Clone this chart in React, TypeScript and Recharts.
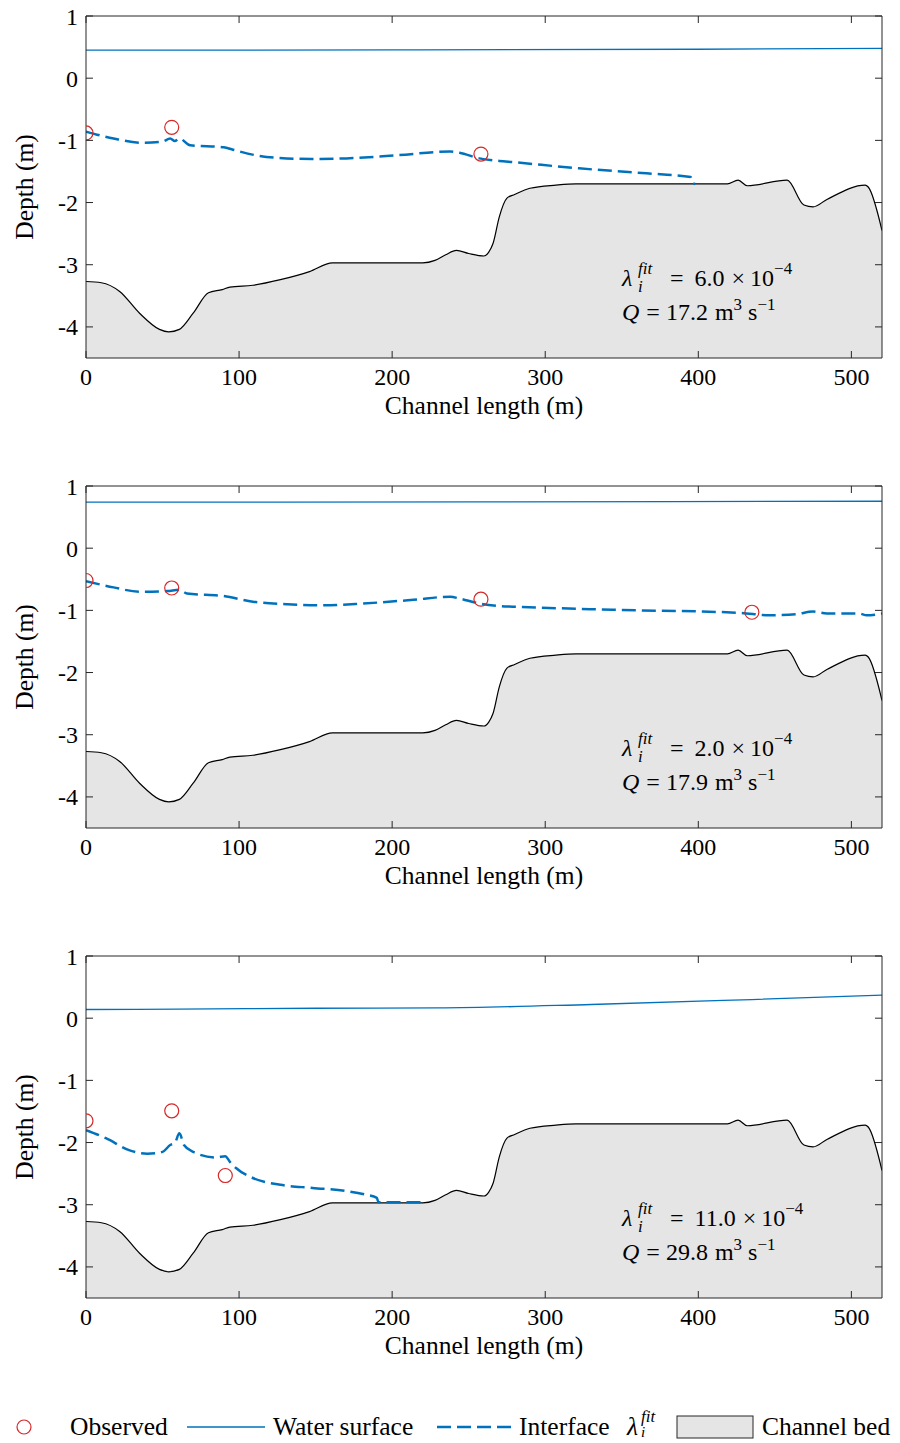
import React from 'react';
import { ComposedChart, Area, Line, Scatter, XAxis, YAxis } from 'recharts';

const BLUE = '#0072bd';
const RED = '#d62728';
const AXIS = '#262626';
const BED_FILL = '#e5e5e5';
const SERIF = '"Liberation Serif", "Times New Roman", serif';

const X_TICKS = [0, 100, 200, 300, 400, 500];
const Y_TICKS = [-4, -3, -2, -1, 0, 1];

// channel bed, identical in all three panels
const bedX = [0, 10, 22, 35, 48, 54, 61, 70, 80, 89, 94, 109, 127, 146, 161, 220, 228, 235, 242, 250, 260, 263, 266, 270, 275, 280, 290, 307, 320, 419, 426, 432, 458, 469, 475, 484, 509, 511, 520];
const bedDepth = [-3.27, -3.29, -3.43, -3.78, -4.04, -4.08, -4.04, -3.78, -3.45, -3.4, -3.36, -3.33, -3.24, -3.11, -2.97, -2.97, -2.93, -2.84, -2.77, -2.82, -2.86, -2.8, -2.65, -2.23, -1.93, -1.87, -1.77, -1.72, -1.7, -1.7, -1.64, -1.73, -1.64, -2.04, -2.07, -1.95, -1.72, -1.75, -2.45];

// panel 1
const water1X = [0, 200, 400, 520];
const water1Depth = [0.45, 0.455, 0.465, 0.48];
const iface1X = [0, 18, 37, 50, 55, 58, 61, 68, 90, 96, 111, 131, 148, 170, 203, 238, 244, 257, 270, 279, 322, 366, 395, 396.5, 398];
const iface1Depth = [-0.86, -0.97, -1.04, -1.02, -0.97, -1.01, -0.97, -1.08, -1.11, -1.15, -1.24, -1.29, -1.3, -1.29, -1.24, -1.18, -1.2, -1.29, -1.33, -1.35, -1.45, -1.53, -1.59, -1.69, -1.7];
const obs1X = [0, 56, 258];
const obs1Depth = [-0.88, -0.79, -1.22];

// panel 2
const water2X = [0, 260, 520];
const water2Depth = [0.74, 0.745, 0.755];
const iface2X = [0, 18, 35, 53, 61, 66, 90, 109, 131, 153, 181, 214, 238, 244, 257, 270, 279, 344, 427, 447, 464, 475, 484, 505, 510, 520];
const iface2Depth = [-0.53, -0.63, -0.7, -0.69, -0.67, -0.73, -0.77, -0.86, -0.9, -0.92, -0.89, -0.83, -0.78, -0.81, -0.89, -0.93, -0.94, -0.99, -1.04, -1.08, -1.06, -1.02, -1.05, -1.05, -1.08, -1.05];
const obs2X = [0, 56, 258, 435];
const obs2Depth = [-0.52, -0.64, -0.82, -1.03];

// panel 3
const water3X = [0, 60, 150, 230, 330, 435, 520];
const water3Depth = [0.14, 0.145, 0.16, 0.165, 0.22, 0.3, 0.37];
const iface3X = [0, 13, 29, 40, 50, 55, 58, 61, 64, 70, 85, 91, 94, 98, 109, 127, 148, 170, 183, 190, 191, 220];
const iface3Depth = [-1.8, -1.93, -2.13, -2.18, -2.15, -2.04, -2.01, -1.85, -2.04, -2.15, -2.24, -2.22, -2.31, -2.41, -2.57, -2.68, -2.73, -2.78, -2.84, -2.89, -2.96, -2.96];
const obs3X = [0, 56, 91];
const obs3Depth = [-1.65, -1.49, -2.53];

const lambdaLabels = ['6.0', '2.0', '11.0'];
const qLabels = ['17.2', '17.9', '29.8'];

const pts = (xs: number[], ys: number[]) => xs.map((x, i) => ({ x, d: ys[i] }));
const bed = pts(bedX, bedDepth);

const panels = [
  { water: pts(water1X, water1Depth), iface: pts(iface1X, iface1Depth), obs: pts(obs1X, obs1Depth) },
  { water: pts(water2X, water2Depth), iface: pts(iface2X, iface2Depth), obs: pts(obs2X, obs2Depth) },
  { water: pts(water3X, water3Depth), iface: pts(iface3X, iface3Depth), obs: pts(obs3X, obs3Depth) },
];

const TICK_LEN = 7;
const txt = { fontFamily: SERIF, fontSize: 24, fill: '#000' };
const big = { ...txt, fontSize: 25.5 };

// MATLAB-style ticks pointing into the plot box
const BottomTick = (p: any) => {
  const ay = p.y - 10;
  return (
    <g>
      <line x1={p.x} x2={p.x} y1={ay} y2={ay - TICK_LEN} stroke={AXIS} />
      <text x={p.x} y={p.y} dy="0.71em" textAnchor="middle" {...txt}>{p.payload.value}</text>
    </g>
  );
};
const TopTick = (p: any) => <line x1={p.x} x2={p.x} y1={p.y} y2={p.y + TICK_LEN} stroke={AXIS} />;
const LeftTick = (p: any) => {
  const ax = p.x + 8;
  return (
    <g>
      <line x1={ax} x2={ax + TICK_LEN} y1={p.y} y2={p.y} stroke={AXIS} />
      <text x={p.x} y={p.y} dy="0.355em" textAnchor="end" {...txt}>{p.payload.value}</text>
    </g>
  );
};
const RightTick = (p: any) => <line x1={p.x - TICK_LEN} x2={p.x} y1={p.y} y2={p.y} stroke={AXIS} />;

const ObsShape = (p: any) => <circle cx={p.cx} cy={p.cy} r={7} fill="none" stroke={RED} strokeWidth={1.2} />;

const Panel = ({ idx }: { idx: number }) => {
  const { water, iface, obs } = panels[idx];
  return (
    <div style={{ position: 'absolute', left: 0, top: idx * 470, width: 900, height: 440 }}>
      <ComposedChart width={900} height={440} margin={{ top: 15, right: 17, bottom: 22, left: 26 }}>
        <XAxis dataKey="x" type="number" domain={[0, 520]} ticks={X_TICKS} interval={0} allowDataOverflow
          height={60} tickSize={0} tickMargin={10} tickLine={false} stroke={AXIS} tick={BottomTick} />
        <XAxis xAxisId="top" orientation="top" dataKey="x" type="number" domain={[0, 520]} ticks={X_TICKS}
          interval={0} allowDataOverflow height={1} tickSize={0} tickMargin={0} tickLine={false} stroke={AXIS} tick={TopTick} />
        <YAxis type="number" domain={[-4.5, 1]} ticks={Y_TICKS} interval={0} allowDataOverflow width={60}
          tickSize={0} tickMargin={8} tickLine={false} stroke={AXIS} tick={LeftTick} />
        <YAxis yAxisId="right" orientation="right" type="number" domain={[-4.5, 1]} ticks={Y_TICKS} interval={0}
          allowDataOverflow width={1} tickSize={0} tickMargin={0} tickLine={false} stroke={AXIS} tick={RightTick} />
        <Area data={bed} dataKey="d" type="monotone" baseValue="dataMin" fill={BED_FILL} fillOpacity={1}
          stroke="#000" strokeWidth={1.2} isAnimationActive={false} activeDot={false} />
        <Line data={water} dataKey="d" type="monotone" stroke={BLUE} strokeWidth={1.3} dot={false}
          activeDot={false} isAnimationActive={false} />
        <Line data={iface} dataKey="d" type="monotone" stroke={BLUE} strokeWidth={2.5} strokeDasharray="14 6"
          dot={false} activeDot={false} isAnimationActive={false} />
        <Scatter data={obs} dataKey="d" shape={ObsShape} isAnimationActive={false} />
      </ComposedChart>
      <svg width={900} height={440} style={{ position: 'absolute', left: 0, top: 0, pointerEvents: 'none' }}>
        <text x={484} y={414} textAnchor="middle" {...big}>Channel length (m)</text>
        <text x={33} y={187} textAnchor="middle" transform="rotate(-90 33 187)" {...big}>Depth (m)</text>
        <text x={622} y={286} {...txt} fontStyle="italic">λ</text>
        <text x={638} y={274} {...txt} fontSize={17} fontStyle="italic">fit</text>
        <text x={638} y={292} {...txt} fontSize={17} fontStyle="italic">i</text>
        <text x={670} y={286} {...txt}>
          <tspan>=</tspan>
          <tspan dx={11}>{lambdaLabels[idx]}</tspan>
          <tspan dx={7}>×</tspan>
          <tspan dx={5}>10</tspan>
          <tspan dy={-12} fontSize={17}>−4</tspan>
        </text>
        <text x={622} y={320} {...txt}>
          <tspan fontStyle="italic">Q</tspan>
          <tspan dx={7}>=</tspan>
          <tspan dx={6}>{qLabels[idx]}</tspan>
          <tspan dx={7}>m</tspan>
          <tspan dy={-10} fontSize={17}>3</tspan>
          <tspan dx={6} dy={10}>s</tspan>
          <tspan dy={-10} fontSize={17}>−1</tspan>
        </text>
      </svg>
    </div>
  );
};

const Legend = () => (
  <svg width={900} height={43} style={{ position: 'absolute', left: 0, top: 1400 }}>
    <circle cx={24} cy={27} r={7} fill="none" stroke={RED} strokeWidth={1.2} />
    <text x={70} y={35} {...big}>Observed</text>
    <line x1={187} x2={265} y1={27} y2={27} stroke={BLUE} strokeWidth={1.3} />
    <text x={273} y={35} {...big}>Water surface</text>
    <line x1={437} x2={513} y1={27} y2={27} stroke={BLUE} strokeWidth={2.5} strokeDasharray="14 6" />
    <text x={519} y={35} {...big}>Interface</text>
    <text x={627} y={35} {...big} fontStyle="italic">λ</text>
    <text x={641} y={22} {...txt} fontSize={17} fontStyle="italic">fit</text>
    <text x={641} y={37} {...txt} fontSize={15} fontStyle="italic">i</text>
    <rect x={677} y={16} width={76} height={22} fill={BED_FILL} stroke={AXIS} strokeWidth={1} />
    <text x={762} y={35} {...big}>Channel bed</text>
  </svg>
);

export default function App() {
  return (
    <div style={{ position: 'absolute', left: 0, top: 0, width: 900, height: 1443, background: '#fff' }}>
      <Panel idx={0} />
      <Panel idx={1} />
      <Panel idx={2} />
      <Legend />
    </div>
  );
}
